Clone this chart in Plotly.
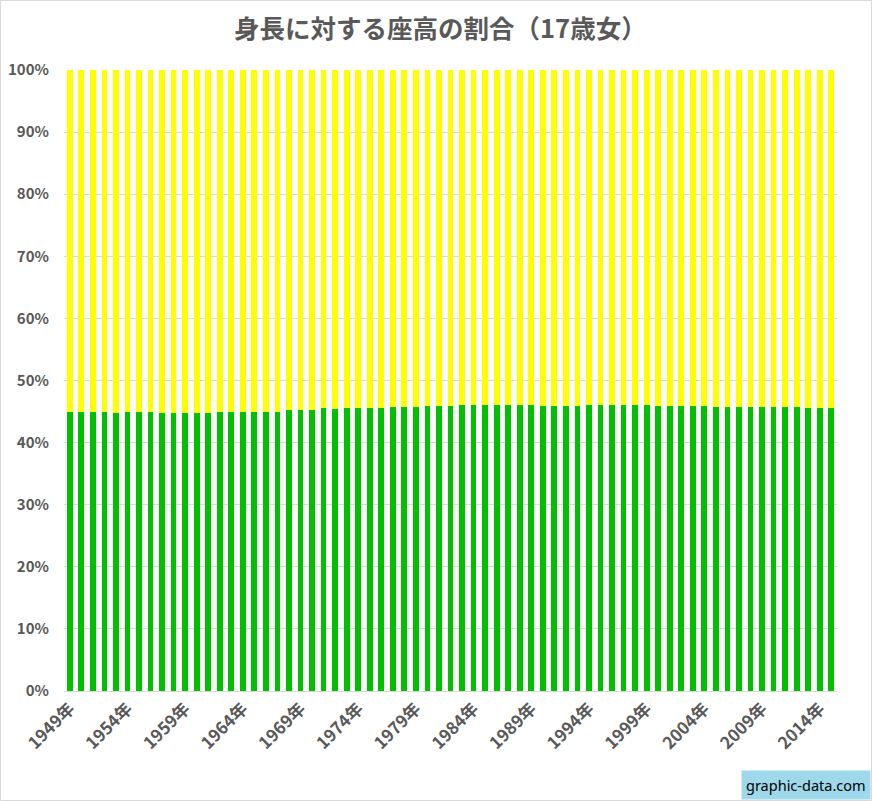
import plotly.graph_objects as go

years = list(range(1949, 2016))
categories = [f"{y}年" for y in years]

# share (%) of the green lower segment
green_share = [
    44.9, 44.9, 44.9, 44.9, 44.7, 44.9, 44.9, 44.9, 44.7, 44.7,
    44.7, 44.7, 44.7, 44.9, 44.9, 44.9, 45.0, 45.0, 45.0, 45.2,
    45.2, 45.2, 45.5, 45.4, 45.5, 45.5, 45.5, 45.5, 45.7, 45.7,
    45.7, 45.9, 45.9, 45.9, 46.0, 46.0, 46.0, 46.0, 46.0, 46.0,
    46.0, 45.9, 45.9, 45.9, 45.9, 46.0, 46.0, 46.0, 46.0, 46.0,
    46.0, 45.9, 45.9, 45.9, 45.9, 45.9, 45.7, 45.7, 45.7, 45.7,
    45.7, 45.7, 45.7, 45.7, 45.5, 45.5, 45.5,
]
yellow_share = [round(100 - g, 2) for g in green_share]

tick_labels = categories[::5]
y_ticks = list(range(0, 101, 10))

title_text = "身長に対する座高の割合（17歳女）"
watermark = "graphic-data.com"

GRAY = "#595959"
FONT = "Noto Sans CJK JP"

fig = go.Figure()
fig.add_trace(go.Bar(x=categories, y=green_share, marker_color="#00C000",
                     marker_line_width=0, name="green"))
fig.add_trace(go.Bar(x=categories, y=yellow_share, marker_color="#FFFF00",
                     marker_line_width=0, name="yellow"))

W, H = 872, 801
ml, mr, mt, mb = 64, 35, 70, 110
pw, ph = W - ml - mr, H - mt - mb

fig.update_layout(
    width=W, height=H,
    barmode="stack", bargap=0.5,
    showlegend=False,
    plot_bgcolor="white", paper_bgcolor="white",
    margin=dict(l=ml, r=mr, t=mt, b=mb),
    title=dict(text=title_text, x=0.505, xanchor="center", y=1 - 29 / H, yanchor="middle",
               font=dict(family=FONT, size=25.5, color=GRAY, weight="bold")),
    xaxis=dict(type="category", tickmode="array", tickvals=tick_labels, ticktext=tick_labels,
               tickangle=-45, tickfont=dict(family=FONT, size=17, color=GRAY, weight="bold"),
               showgrid=False, showline=True, linecolor="#d9d9d9", linewidth=1,
               ticks="", range=[-0.5, len(categories) - 0.5], automargin=False),
    yaxis=dict(range=[0, 100], tickvals=y_ticks, ticktext=[f"{v}%" for v in y_ticks],
               tickfont=dict(family=FONT, size=15, color=GRAY, weight="bold"),
               showgrid=True, gridcolor="#d9d9d9", gridwidth=1,
               zeroline=False, showline=False, ticks="", ticklabelstandoff=14,
               automargin=False),
    font=dict(family=FONT, color=GRAY),
)

# outer border of the chart
fig.add_shape(type="rect", xref="paper", yref="paper",
              x0=(0.5 - ml) / pw, x1=(W - 0.5 - ml) / pw,
              y0=-(mb - 0.5) / ph, y1=1 + (mt - 0.5) / ph,
              line=dict(color="#d9d9d9", width=1), fillcolor="rgba(0,0,0,0)", layer="below")

# watermark box
fig.add_annotation(text=watermark, xref="paper", yref="paper",
                   x=(W - 1 - ml) / pw, y=-(mb - 1) / ph, xanchor="right", yanchor="bottom",
                   showarrow=False, bgcolor="#9DD9EA", borderpad=4,
                   font=dict(family="Noto Sans", size=14.5, color="black"))

fig.write_html("out.html", config={"displayModeBar": False},
               post_script="document.body.style.margin='0';document.body.style.padding='0';")
